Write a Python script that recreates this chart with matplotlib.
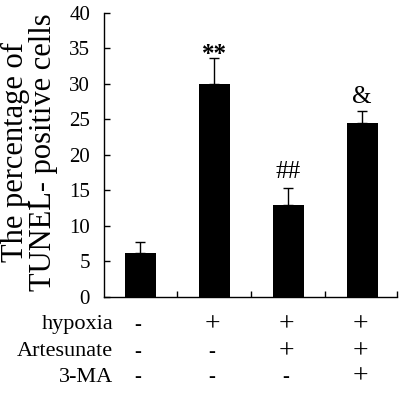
import matplotlib
matplotlib.use("Agg")
import matplotlib.pyplot as plt
import matplotlib.transforms as mtransforms

plt.rcParams["font.family"] = ["Liberation Serif", "DejaVu Serif"]

# Data
groups = [0, 1, 2, 3]
means = [6.2, 30.0, 13.0, 24.5]
errors = [1.6, 3.6, 2.4, 1.6]
marks = ["", "**", "##", "&"]
row_names = ["hypoxia", "Artesunate", "3-MA"]
row_signs = [
    ["-", "+", "+", "+"],
    ["-", "-", "+", "+"],
    ["-", "-", "-", "+"],
]
yticks = [0, 5, 10, 15, 20, 25, 30, 35, 40]

fig = plt.figure(figsize=(4.03, 3.95), dpi=100)
ax = fig.add_axes([0.258, 0.248, 0.727, 0.72])

ax.bar(groups, means, width=0.42, color="black", zorder=2)
ax.errorbar(groups, means, yerr=[[0] * 4, errors], fmt="none",
            ecolor="black", elinewidth=1.0, capsize=3.5, capthick=1.0, zorder=1)

# asterisks sit high in the glyph box, so they need a lower baseline
mark_gap = {"**": -0.4, "##": 1.3, "&": 1.2}
for x, m, e, t in zip(groups, means, errors, marks):
    if t:
        ax.text(x, m + e + mark_gap[t], t, ha="center", va="baseline", fontsize=18,
                fontweight="bold" if t == "**" else "normal")

ax.set_xlim(-0.49, 3.47)
ax.set_ylim(0, 40)
ax.set_yticks(yticks)
ax.set_xticks([0.5, 1.5, 2.5, 3.47])
ax.set_xticklabels([])
ax.tick_params(axis="both", direction="in", length=4, width=1, labelsize=15)
ax.tick_params(axis="y", pad=10)
for side in ["top", "right"]:
    ax.spines[side].set_visible(False)
for side in ["left", "bottom"]:
    ax.spines[side].set_linewidth(1.0)

fig.text(0.074, 1 - 152 / 395, "The percentage of\nTUNEL- positive cells",
         rotation=90, ha="center", va="center", fontsize=22, linespacing=0.95)

# treatment table under the axis
trans = mtransforms.blended_transform_factory(ax.transData, fig.transFigure)
row_y = [1 - 325 / 395, 1 - 352 / 395, 1 - 377 / 395]
for name, signs, y in zip(row_names, row_signs, row_y):
    fig.text(0.281, y, name, ha="right", va="center", fontsize=16)
    for x, s in zip(groups, signs):
        if s == "+":
            ax.text(x - 0.03, y, s, transform=trans, ha="center", va="center", fontsize=20)
        else:
            ax.text(x - 0.03, y, s, transform=trans, ha="center", va="center",
                    fontsize=15, fontweight="bold")

fig.savefig("out.png", dpi=100)
